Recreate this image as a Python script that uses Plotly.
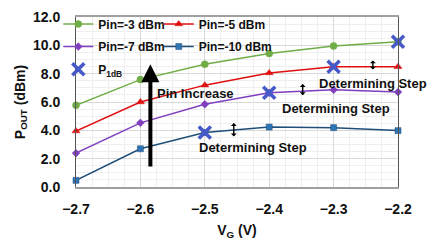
import plotly.graph_objects as go

vg = [-2.7, -2.6, -2.5, -2.4, -2.3, -2.2]
pin_m3 = [5.77, 7.58, 8.67, 9.42, 9.96, 10.26]
pin_m5 = [3.95, 6.00, 7.19, 8.05, 8.49, 8.49]
pin_m7 = [2.39, 4.53, 5.84, 6.65, 6.86, 6.70]
pin_m10 = [0.47, 2.70, 3.84, 4.23, 4.19, 3.98]
p1db_x = [-2.5, -2.4, -2.3, -2.2]
p1db_y = [3.84, 6.65, 8.49, 10.26]

series = [
    ("Pin=-3 dBm", pin_m3, "#70ad47", "circle", 7, "legend2"),
    ("Pin=-5 dBm", pin_m5, "#e01010", "triangle-up", 7, "legend3"),
    ("Pin=-7 dBm", pin_m7, "#7f3fbf", "diamond", 6, "legend4"),
    ("Pin=-10 dBm", pin_m10, "#1f4e79", "square", 6, "legend5"),
]

FONT = "Liberation Sans"
fig = go.Figure()
for name, ys, col, sym, sz, lg in series:
    mcol = "#2e75b6" if name == "Pin=-10 dBm" else col
    fig.add_trace(go.Scatter(
        x=vg, y=ys, name=name, mode="lines+markers",
        line=dict(color=col, width=1.5),
        marker=dict(symbol=sym, size=sz, color=mcol,
                    line=dict(width=0.5, color=col)),
        cliponaxis=False, legend=lg))

fig.add_trace(go.Scatter(
    x=p1db_x, y=p1db_y, name="P<sub>1dB</sub>", mode="markers",
    marker=dict(symbol="x-thin", size=12, line=dict(width=3.5, color="#4659c8"),
                color="#4659c8"),
    cliponaxis=False, legend="legend6"))

# Arrows and annotations
ann = []
ann.append(dict(x=-2.5845, y=8.67, ax=-2.5845, ay=1.35, xref="x", yref="y",
                axref="x", ayref="y", text="", showarrow=True, arrowhead=2,
                arrowsize=0.9, arrowwidth=4, arrowcolor="#000000"))
ann.append(dict(x=-2.577, y=6.63, xref="x", yref="y", text="Pin Increase",
                showarrow=False, xanchor="left", yanchor="middle",
                font=dict(family=FONT, size=13, color="#111111", weight="bold")))
steps = [(-2.239, 8.56, 0.75), (-2.348, 6.82, 0.9), (-2.455, 3.99, 1.05)]
for sx, sy, sp in steps:
    ann.append(dict(x=sx, y=sy + sp / 2, ax=sx, ay=sy - sp / 2, xref="x", yref="y",
                    axref="x", ayref="y", text="", showarrow=True, arrowhead=1,
                    startarrowhead=1, arrowside="end+start", arrowsize=0.7,
                    startarrowsize=0.7, arrowwidth=1.4, arrowcolor="#000000"))
texts = [(-2.239, 7.33), (-2.2958, 5.51), (-2.4255, 2.79)]
for tx, ty in texts:
    ann.append(dict(x=tx, y=ty, xref="x", yref="y", text="Determining Step",
                    showarrow=False, xanchor="center", yanchor="middle",
                    font=dict(family=FONT, size=13, color="#111111", weight="bold")))

# page body has an 8px margin, so the figure is 428x240 drawn at (8, 8)
fig.update_layout(
    width=428, height=240,
    margin=dict(l=68, r=38, t=9, b=61, autoexpand=False),
    paper_bgcolor="white", plot_bgcolor="white",
    font=dict(family=FONT, color="#111111"),
    annotations=ann,
    showlegend=True,
)

lf = dict(family=FONT, size=12, color="#111111", weight="bold")
legpos = {
    "legend2": (-0.055, 0.959),
    "legend3": (0.257, 0.959),
    "legend4": (-0.055, 0.826),
    "legend5": (0.257, 0.826),
    "legend6": (-0.055, 0.692),
}
for k, (lx, ly) in legpos.items():
    fig.update_layout({k: dict(x=lx, y=ly, xanchor="left", yanchor="middle",
                               bgcolor="rgba(0,0,0,0)", font=lf,
                               itemwidth=30, borderwidth=0)})

fig.update_xaxes(
    range=[-2.7, -2.2], dtick=0.1, tick0=-2.7, tickformat=".1f",
    showgrid=True, gridcolor="#d9d9d9", gridwidth=1,
    minor=dict(dtick=0.025, showgrid=True, gridcolor="#efefef"),
    showline=True, linecolor="#a0a0a0", linewidth=2, mirror=True,
    ticks="outside", ticklen=8, tickcolor="rgba(0,0,0,0)",
    tickfont=dict(family=FONT, size=14, color="#111111", weight="bold"),
    title=dict(text="V<sub>G</sub> (V)", standoff=9,
               font=dict(family=FONT, size=14, color="#111111", weight="bold")),
    zeroline=False, automargin=False, ticklabeloverflow="allow",
)
fig.update_yaxes(
    range=[0, 12], dtick=2, tickformat=".1f",
    showgrid=True, gridcolor="#d9d9d9", gridwidth=1,
    minor=dict(dtick=0.5, showgrid=True, gridcolor="#efefef"),
    showline=True, linecolor="#555555", linewidth=1, mirror=True,
    ticks="outside", ticklen=12, tickcolor="rgba(0,0,0,0)",
    tickfont=dict(family=FONT, size=14, color="#111111", weight="bold"),
    title=dict(text="P<sub>OUT</sub> (dBm)", standoff=4,
               font=dict(family=FONT, size=14, color="#111111", weight="bold")),
    zeroline=False, automargin=False, ticklabeloverflow="allow",
)

fig.write_html("out.html")
